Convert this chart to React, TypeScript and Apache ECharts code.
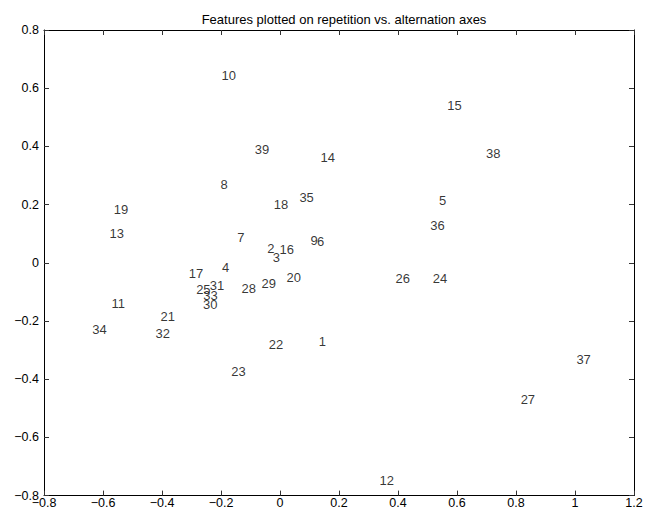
import React, { useEffect, useRef } from "react";
import * as echarts from "echarts";

const featureLabels = [
  "1","2","3","4","5","6","7","8","9","10",
  "11","12","13","14","15","16","17","18","19","20",
  "21","22","23","24","25","26","27","28","29","30",
  "31","32","33","34","35","36","37","38","39",
];
const xValues = [
  0.130, -0.045, -0.026, -0.198, 0.537, 0.124, -0.147, -0.203, 0.102, -0.200,
  -0.573, 0.336, -0.580, 0.136, 0.565, -0.003, -0.311, -0.023, -0.565, 0.020,
  -0.407, -0.040, -0.167, 0.516, -0.286, 0.390, 0.814, -0.132, -0.064, -0.263,
  -0.240, -0.424, -0.262, -0.638, 0.064, 0.508, 1.003, 0.697, -0.087,
];
const yValues = [
  -0.271, 0.050, 0.017, -0.017, 0.213, 0.073, 0.086, 0.270, 0.075, 0.645,
  -0.139, -0.749, 0.101, 0.363, 0.539, 0.046, -0.038, 0.201, 0.184, -0.050,
  -0.183, -0.280, -0.374, -0.053, -0.093, -0.053, -0.471, -0.088, -0.072, -0.143,
  -0.079, -0.242, -0.113, -0.228, 0.224, 0.129, -0.331, 0.374, 0.388,
];
const titleText = "Features plotted on repetition vs. alternation axes";

const FONT = "'Liberation Sans', Arial, Helvetica, sans-serif";

function fmt(v: number): string {
  const r = Math.round(v * 10) / 10;
  if (r === 0) return "0";
  return (r < 0 ? "\u2212" : "") + String(Math.abs(r));
}

export default function App() {
  const ref = useRef<HTMLDivElement>(null);
  useEffect(() => {
    document.body.style.margin = "0";
    if (!ref.current) return;
    const chart = echarts.init(ref.current, undefined, { renderer: "svg" });
    const axisLine = { show: true, onZero: false, lineStyle: { color: "#000", width: 1 } };
    const axisTick = { show: true, inside: true, length: 5, lineStyle: { color: "#333", width: 1 } };
    const data = featureLabels.map((l, i) => [xValues[i], yValues[i], l]);
    chart.setOption({
      animation: false,
      backgroundColor: "#fff",
      title: {
        text: titleText,
        left: 339,
        textAlign: "center",
        top: 8,
        textStyle: { fontFamily: FONT, fontSize: 13, fontWeight: "normal", color: "#000" },
      },
      grid: { left: 44, right: 22, top: 30, bottom: 17.4, containLabel: false },
      xAxis: [
        {
          type: "value", min: -0.8, max: 1.2, interval: 0.2, position: "bottom",
          axisLine, axisTick, splitLine: { show: false },
          axisLabel: { fontFamily: FONT, fontSize: 12.5, color: "#000", margin: 1, formatter: fmt },
        },
        {
          type: "value", min: -0.8, max: 1.2, interval: 0.2, position: "top",
          axisLine, axisTick, splitLine: { show: false }, axisLabel: { show: false },
        },
      ],
      yAxis: [
        {
          type: "value", min: -0.8, max: 0.8, interval: 0.2, position: "left",
          axisLine, axisTick, splitLine: { show: false },
          axisLabel: { fontFamily: FONT, fontSize: 12.5, color: "#000", margin: 5, formatter: fmt },
        },
        {
          type: "value", min: -0.8, max: 0.8, interval: 0.2, position: "right",
          axisLine, axisTick, splitLine: { show: false }, axisLabel: { show: false },
        },
      ],
      series: [
        {
          type: "scatter",
          xAxisIndex: 0,
          yAxisIndex: 0,
          symbolSize: 1,
          itemStyle: { color: "transparent" },
          data,
          label: {
            show: true,
            position: "right",
            distance: 0,
            formatter: (p: any) => p.data[2],
            fontFamily: FONT,
            fontSize: 13,
            color: "#000",
          },
          emphasis: { disabled: true },
        },
      ],
    });
    return () => chart.dispose();
  }, []);
  return <div ref={ref} style={{ width: 656, height: 513 }} />;
}
